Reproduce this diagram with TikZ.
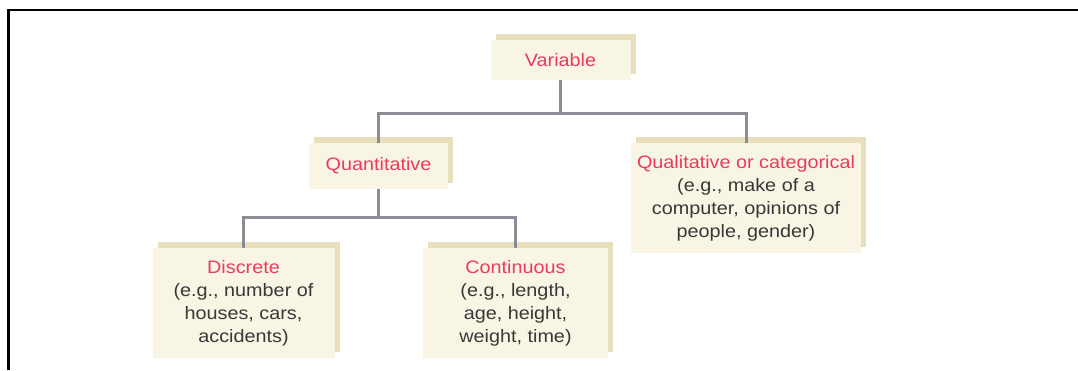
\documentclass[tikz,border=0pt]{standalone}
\usepackage{fontspec}
\setmainfont{Liberation Sans}[FakeStretch=1.1]
\usetikzlibrary{shadows}
\definecolor{boxfill}{HTML}{F8F5E4}
\definecolor{shadowfill}{HTML}{E8E0BC}
\definecolor{titlered}{HTML}{EC3A5E}
\definecolor{bodytext}{HTML}{383838}
\definecolor{conngray}{HTML}{8C8C94}
\tikzset{
  catbox/.style={fill=boxfill, draw=none, inner sep=0pt, align=center,
    text=bodytext, font=\fontsize{18}{23}\selectfont,
    copy shadow={shadow xshift=5pt, shadow yshift=6pt, fill=shadowfill, draw=none}},
  conn/.style={draw=conngray, line width=3pt, line join=miter},
  frameline/.style={draw=black, line width=2.2pt}
}
\newcommand{\ttl}[1]{\textcolor{titlered}{#1}}
\begin{document}
\begin{tikzpicture}[x=1pt, y=-1pt]
\useasboundingbox (0,0) rectangle (1078,370);
\coordinate (fa) at (8.5,370);
\coordinate (fb) at (8.5,10);
\coordinate (fc) at (1078,10);
\draw[frameline] (fa) -- (fb) -- (fc);

\node[catbox, minimum width=140pt, minimum height=40pt] (var) at (560.5,60) {\ttl{Variable}};
\node[catbox, minimum width=139pt, minimum height=46pt] (quan) at (378.5,166) {\ttl{Quantitative}};
\node[catbox, minimum width=230pt, minimum height=110pt] (qual) at (746,198)
  {\ttl{Qualitative or categorical}\\(e.g., make of a\\computer, opinions of\\people, gender)};
\node[catbox, minimum width=182pt, minimum height=110pt] (disc) at (243.5,303)
  {\ttl{Discrete}\\(e.g., number of\\houses, cars,\\accidents)};
\node[catbox, minimum width=185pt, minimum height=110pt] (cont) at (515.5,303)
  {\ttl{Continuous}\\(e.g., length,\\age, height,\\weight, time)};

\coordinate (j1) at (560.5,113);
\coordinate (j2) at (378.5,217);
\draw[conn] (var.south) -- (j1);
\draw[conn] (quan.north) |- (j1) -| (qual.north);
\draw[conn] (quan.south) -- (j2);
\draw[conn] (disc.north) |- (j2) -| (cont.north);
\end{tikzpicture}
\end{document}
